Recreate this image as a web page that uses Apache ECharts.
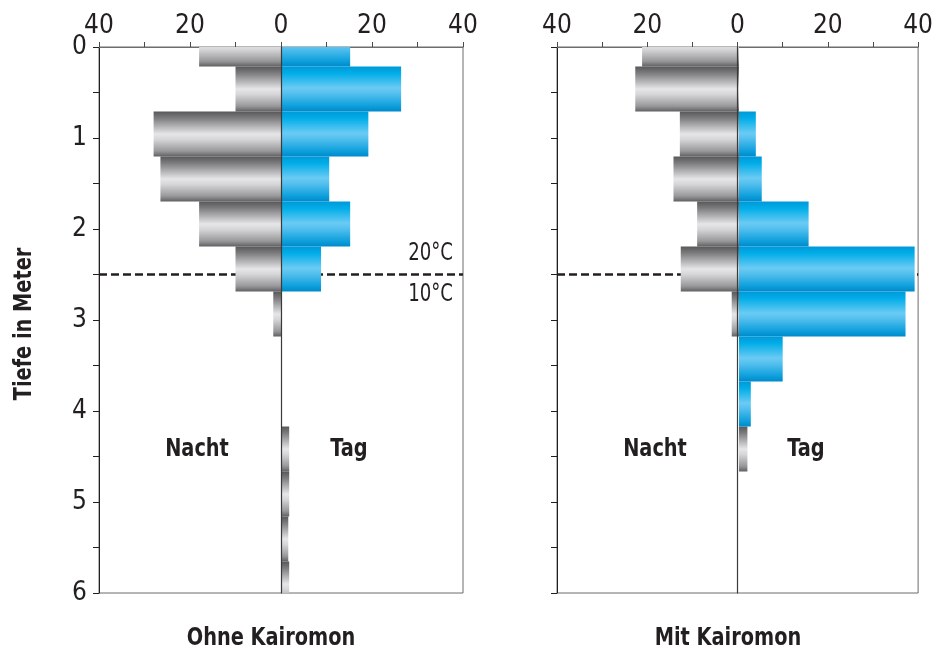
<!DOCTYPE html>
<html>
<head>
<meta charset="utf-8">
<script src="https://cdn.jsdelivr.net/npm/echarts@6/dist/echarts.min.js"></script>
<style>
  html, body { margin: 0; padding: 0; background: #fff; }
  #chart { width: 936px; height: 652px; }
</style>
</head>
<body>
<div id="chart"></div>
<script>
// Tiefenklassen (Meter), je 0,5 m
const tiefen = ['0', '0.5', '1', '1.5', '2', '2.5', '3', '3.5', '4', '4.5', '5', '5.5', '6'];

// Ohne Kairomon
const nachtOhne = [18, 10, 28, 26.5, 18, 10, 1.7, 0, 0, 0, 0, 0, 0];
const tagOhne = [15.2, 26.4, 19.2, 10.6, 15.2, 8.8, 0, 0, 0, 0, 0, 0, 0];
const grauTagOhne = [0, 0, 0, 0, 0, 0, 0, 0, 0, 1.8, 1.8, 1.6, 1.8];

// Mit Kairomon
const nachtMit = [21.3, 22.8, 13.0, 14.4, 9.2, 12.8, 1.6, 0, 0, 0, 0, 0, 0];
const tagMit = [0, 0, 3.7, 5.0, 15.3, 38.6, 36.6, 9.6, 2.6, 0, 0, 0, 0];
const grauTagMit = [0, 0, 0, 0, 0, 0, 0, 0, 0, 1.85, 0, 0, 0];

const xTicks = [-40, -30, -20, -10, 0, 10, 20, 30, 40];
const thermokline = 2.5;

let dom = document.getElementById('chart');
let myChart = echarts.init(dom, null, { renderer: 'canvas' });

const FONT = '"Liberation Sans Narrow", "DejaVu Sans Condensed", sans-serif';
const INK = '#231f20';
const PLOT_TOP = 47, PLOT_W = 364, PLOT_H = 546;
const BAR_TOP = 44, BAR_H = 540;

const grau = [
  { offset: 0, color: '#58585a' },
  { offset: 0.15, color: '#7d7d7f' },
  { offset: 0.5, color: '#e6e6e8' },
  { offset: 0.62, color: '#d6d6d8' },
  { offset: 0.88, color: '#98989a' },
  { offset: 1, color: '#606062' }
];
const blau = [
  { offset: 0, color: '#0098d8' },
  { offset: 0.15, color: '#00ade8' },
  { offset: 0.48, color: '#6acbf4' },
  { offset: 0.6, color: '#55c0ee' },
  { offset: 0.88, color: '#0d9fdc' },
  { offset: 1, color: '#0089c9' }
];

function balken(farbe) {
  return function (params, api) {
    const v = api.value(0);
    const k = api.value(1);
    if (!v) return;
    const a = api.coord([0, k]);
    const b = api.coord([v, k]);
    const h = api.size([0, 1])[1];
    const top = a[1] - h / 2;
    const cs = params.coordSys;
    const shape = echarts.graphic.clipRectByRect(
      { x: Math.min(a[0], b[0]), y: top, width: Math.abs(b[0] - a[0]), height: h },
      { x: cs.x, y: PLOT_TOP, width: cs.width, height: PLOT_H }
    );
    if (!shape) return;
    return {
      type: 'rect',
      shape: shape,
      style: { fill: new echarts.graphic.LinearGradient(0, top, 0, top + h, farbe, true) }
    };
  };
}

const panels = [
  { left: 99, nacht: nachtOhne, tag: tagOhne, grauTag: grauTagOhne },
  { left: 557, nacht: nachtMit, tag: tagMit, grauTag: grauTagMit }
];

let grid = [], xAxis = [], yAxis = [], series = [];

panels.forEach((p, i) => {
  grid.push({ left: p.left, top: PLOT_TOP, width: PLOT_W, height: PLOT_H,
    show: true, borderColor: '#6d6d6d', borderWidth: 1 });
  grid.push({ left: p.left, top: BAR_TOP, width: PLOT_W, height: BAR_H });

  xAxis.push({
    gridIndex: 2 * i, type: 'value', position: 'top',
    min: xTicks[0], max: xTicks[xTicks.length - 1], interval: 10,
    axisLine: { onZero: false, lineStyle: { color: '#6d6d6d', width: 1 } },
    axisTick: { length: 5, lineStyle: { color: '#4a4a4a' } },
    axisLabel: {
      margin: 8, fontSize: 26, fontFamily: FONT, color: INK,
      formatter: v => (v % 20 === 0 ? String(Math.abs(v)) : '')
    },
    splitLine: { show: false }
  });
  xAxis.push({ gridIndex: 2 * i + 1, type: 'value', min: -40, max: 40, show: false });

  yAxis.push({
    gridIndex: 2 * i, type: 'value', min: 0, max: 6, interval: 0.5, inverse: true,
    position: 'left',
    axisLine: { onZero: false, lineStyle: { color: INK, width: 1 } },
    axisTick: { length: 6, lineStyle: { color: INK } },
    axisLabel: {
      show: i === 0, margin: 12, fontSize: 26, fontFamily: FONT, color: INK,
      formatter: v => (Number.isInteger(v) ? String(v) : '')
    },
    splitLine: { show: false }
  });
  // Nulllinie
  yAxis.push({
    gridIndex: 2 * i, type: 'value', min: 0, max: 6, inverse: true, position: 'right',
    axisLine: { show: true, onZero: true, lineStyle: { color: '#3a3a3a', width: 1.2 } },
    axisTick: { show: false }, axisLabel: { show: false }, splitLine: { show: false },
    z: 10
  });
  yAxis.push({ gridIndex: 2 * i + 1, type: 'category', data: tiefen,
    boundaryGap: false, inverse: true, show: false });

  series.push({
    type: 'line', xAxisIndex: 2 * i, yAxisIndex: 3 * i,
    data: [[-40, thermokline], [40, thermokline]],
    symbol: 'none', silent: true, z: 1,
    lineStyle: { type: [8, 4], width: 2.5, color: INK }
  });

  let grauDaten = [];
  p.nacht.forEach((v, k) => { if (v) grauDaten.push([-v, k]); });
  p.grauTag.forEach((v, k) => { if (v) grauDaten.push([v, k]); });
  series.push({
    type: 'custom', xAxisIndex: 2 * i + 1, yAxisIndex: 3 * i + 2,
    encode: { x: 0, y: 1 }, renderItem: balken(grau), data: grauDaten, z: 2
  });
  series.push({
    type: 'custom', xAxisIndex: 2 * i + 1, yAxisIndex: 3 * i + 2,
    encode: { x: 0, y: 1 },
    renderItem: balken(blau),
    data: p.tag.map((v, k) => [v, k]).filter(d => d[0]), z: 2
  });
});

function text(t, x, y, extra) {
  const el = {
    type: 'text', x: x, y: y, z: 20, scaleX: 0.86,
    style: { text: t, fontFamily: FONT, fontSize: 25, fontWeight: 'bold', fill: INK,
      align: 'center', verticalAlign: 'middle' }
  };
  if (extra) {
    Object.assign(el.style, extra.style || {});
    delete extra.style;
    Object.assign(el, extra);
  }
  return el;
}

let option = {
  animation: false,
  backgroundColor: '#fff',
  grid: grid,
  xAxis: xAxis,
  yAxis: yAxis,
  series: series,
  graphic: [
    text('Tiefe in Meter', 24, 324, { rotation: Math.PI / 2 }),
    text('Nacht', 197, 449),
    text('Tag', 349, 449),
    text('Nacht', 655, 449),
    text('Tag', 806, 449),
    text('Ohne Kairomon', 271, 638),
    text('Mit Kairomon', 728, 638),
    text('20°C', 453, 254, { scaleX: 0.84, style: { fontWeight: 'normal', fontSize: 24, align: 'right' } }),
    text('10°C', 453, 295, { scaleX: 0.84, style: { fontWeight: 'normal', fontSize: 24, align: 'right' } })
  ]
};

if (option && typeof option === 'object') {
  myChart.setOption(option);
}

window.addEventListener('resize', myChart.resize);
</script>
</body>
</html>
